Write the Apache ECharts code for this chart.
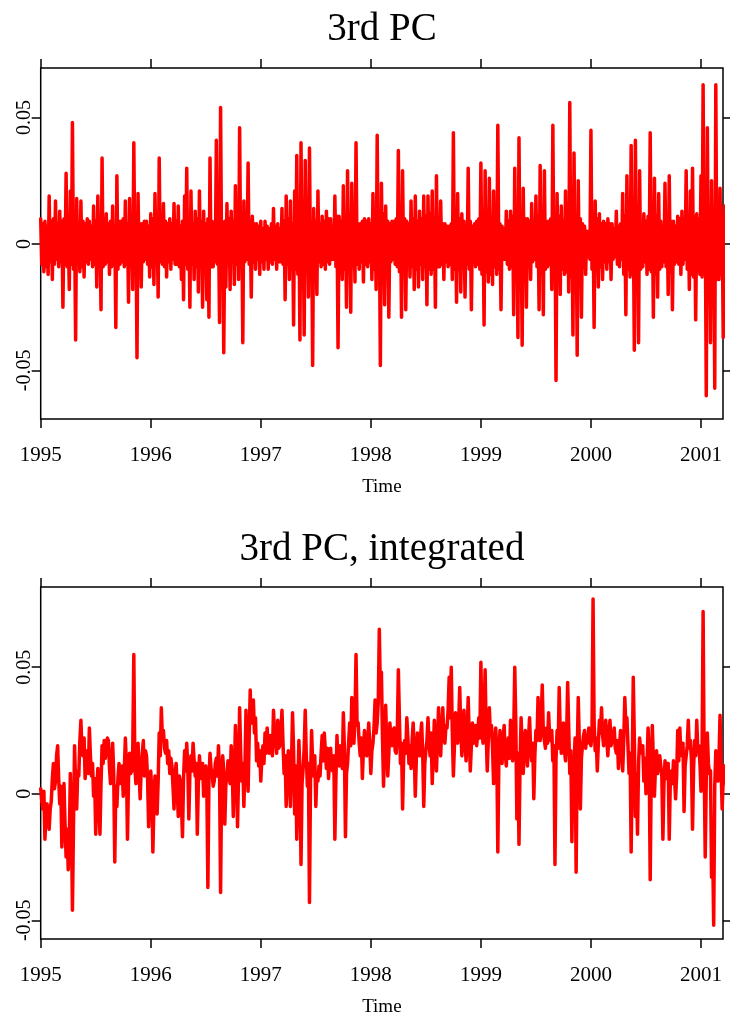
<!DOCTYPE html>
<html>
<head>
<meta charset="utf-8">
<script src="https://cdn.jsdelivr.net/npm/echarts@6/dist/echarts.min.js"></script>
<style>
  html, body { margin: 0; padding: 0; background: #fff; }
  #chart { width: 730px; height: 1018px; }
</style>
</head>
<body>
<div id="chart"></div>
<script>
// twice-weekly samples starting at 1995
var startYear = 1995;
var pointsPerYear = 104;

var yearTicks = [1995, 1996, 1997, 1998, 1999, 2000, 2001];
var valueTicks = [-0.05, 0, 0.05];

// 3rd PC
var pc3 = [
  0.010, -0.008, 0.008, -0.011, 0.009, -0.009, 0.007, -0.012, 0.019, -0.007,
  0.009, -0.014, 0.010, -0.008, 0.017, -0.006, 0.008, -0.009, 0.013, -0.007,
  0.009, -0.025, 0.010, -0.008, 0.028, -0.009, 0.007, -0.018, 0.021, -0.008,
  0.048, -0.010, 0.009, -0.038, 0.018, -0.007, 0.008, -0.011, 0.017, -0.009,
  0.009, -0.013, 0.008, -0.007, 0.010, -0.008, 0.009, -0.006, 0.007, -0.009,
  0.015, -0.008, 0.009, -0.017, 0.019, -0.007, 0.008, -0.026, 0.034, -0.009,
  0.010, -0.008, 0.012, -0.007, 0.008, -0.012, 0.009, -0.009, 0.015, -0.008,
  0.007, -0.033, 0.027, -0.010, 0.009, -0.008, 0.009, -0.007, 0.010, -0.009,
  0.017, -0.008, 0.008, -0.023, 0.018, -0.009, 0.009, -0.018, 0.040, -0.008,
  0.010, -0.045, 0.020, -0.009, 0.008, -0.017, 0.008, -0.007, 0.009, -0.006,
  0.009, -0.008, 0.007, -0.013, 0.012, -0.009, 0.010, -0.016, 0.020, -0.008,
  0.009, -0.021, 0.034, -0.007, 0.008, -0.008, 0.016, -0.009, 0.009, -0.013,
  0.008, -0.007, 0.010, -0.010, 0.008, -0.006, 0.016, -0.008, 0.009, -0.008,
  0.015, -0.009, 0.007, -0.014, 0.009, -0.022, 0.019, -0.008, 0.030, -0.010,
  0.009, -0.025, 0.021, -0.008, 0.008, -0.014, 0.013, -0.009, 0.010, -0.019,
  0.021, -0.007, 0.009, -0.025, 0.013, -0.008, 0.008, -0.022, 0.010, -0.029,
  0.034, -0.009, 0.009, -0.009, 0.008, -0.007, 0.041, -0.008, 0.010, -0.031,
  0.054, -0.009, 0.008, -0.043, 0.009, -0.017, 0.016, -0.008, 0.010, -0.018,
  0.013, -0.007, 0.009, -0.016, 0.023, -0.008, 0.008, -0.014, 0.046, -0.009,
  0.010, -0.039, 0.017, -0.007, 0.008, -0.006, 0.032, -0.008, 0.009, -0.021,
  0.011, -0.007, 0.008, -0.010, 0.008, -0.006, 0.007, -0.012, 0.009, -0.007,
  0.006, -0.010, 0.009, -0.006, 0.007, -0.010, 0.006, -0.007, 0.008, -0.008,
  0.014, -0.006, 0.007, -0.010, 0.008, -0.007, 0.006, -0.007, 0.014, -0.008,
  0.009, -0.022, 0.019, -0.008, 0.010, -0.014, 0.017, -0.009, 0.008, -0.032,
  0.021, -0.010, 0.035, -0.012, 0.011, -0.038, 0.040, -0.010, 0.012, -0.036,
  0.033, -0.009, 0.010, -0.021, 0.038, -0.011, 0.009, -0.048, 0.014, -0.008,
  0.009, -0.020, 0.021, -0.007, 0.008, -0.009, 0.011, -0.008, 0.009, -0.010,
  0.013, -0.007, 0.010, -0.008, 0.010, -0.006, 0.007, -0.006, 0.019, -0.009,
  0.011, -0.041, 0.011, -0.009, 0.009, -0.014, 0.023, -0.010, 0.010, -0.025,
  0.029, -0.011, 0.012, -0.027, 0.024, -0.009, 0.009, -0.015, 0.040, -0.008,
  0.008, -0.010, 0.008, -0.007, 0.009, -0.015, 0.010, -0.008, 0.009, -0.009,
  0.010, -0.007, 0.008, -0.014, 0.020, -0.010, 0.011, -0.018, 0.043, -0.012,
  0.010, -0.048, 0.024, -0.011, 0.012, -0.024, 0.015, -0.010, 0.009, -0.029,
  0.008, -0.007, 0.009, -0.006, 0.009, -0.008, 0.010, -0.009, 0.037, -0.011,
  0.012, -0.029, 0.029, -0.010, 0.010, -0.026, 0.009, -0.008, 0.008, -0.013,
  0.017, -0.009, 0.010, -0.018, 0.019, -0.010, 0.009, -0.017, 0.013, -0.008,
  0.010, -0.014, 0.019, -0.009, 0.011, -0.024, 0.019, -0.010, 0.012, -0.012,
  0.021, -0.010, 0.010, -0.025, 0.027, -0.009, 0.009, -0.009, 0.017, -0.008,
  0.008, -0.014, 0.008, -0.007, 0.007, -0.009, 0.007, -0.008, 0.008, -0.014,
  0.044, -0.010, 0.011, -0.023, 0.020, -0.010, 0.010, -0.019, 0.012, -0.009,
  0.009, -0.021, 0.007, -0.008, 0.030, -0.010, 0.009, -0.026, 0.007, -0.007,
  0.008, -0.009, 0.009, -0.008, 0.010, -0.010, 0.032, -0.012, 0.012, -0.032,
  0.029, -0.011, 0.011, -0.015, 0.026, -0.012, 0.010, -0.016, 0.021, -0.009,
  0.009, -0.012, 0.047, -0.010, 0.008, -0.026, 0.007, -0.006, 0.006, -0.006,
  0.013, -0.008, 0.009, -0.010, 0.013, -0.009, 0.011, -0.028, 0.030, -0.012,
  0.012, -0.037, 0.042, -0.013, 0.010, -0.040, 0.022, -0.011, 0.010, -0.025,
  0.010, -0.008, 0.009, -0.014, 0.016, -0.007, 0.007, -0.006, 0.019, -0.009,
  0.011, -0.026, 0.031, -0.012, 0.012, -0.028, 0.029, -0.010, 0.009, -0.009,
  0.009, -0.008, 0.010, -0.018, 0.047, -0.012, 0.011, -0.054, 0.020, -0.012,
  0.011, -0.020, 0.015, -0.010, 0.009, -0.012, 0.021, -0.011, 0.012, -0.019,
  0.056, -0.013, 0.012, -0.036, 0.036, -0.013, 0.011, -0.044, 0.025, -0.012,
  0.010, -0.029, 0.008, -0.007, 0.007, -0.012, 0.005, -0.005, 0.005, -0.006,
  0.045, -0.010, 0.010, -0.033, 0.017, -0.010, 0.010, -0.017, 0.012, -0.009,
  0.008, -0.014, 0.009, -0.007, 0.008, -0.010, 0.010, -0.007, 0.008, -0.014,
  0.008, -0.006, 0.006, -0.005, 0.013, -0.008, 0.007, -0.009, 0.008, -0.006,
  0.020, -0.012, 0.011, -0.028, 0.027, -0.010, 0.009, -0.013, 0.039, -0.012,
  0.012, -0.042, 0.041, -0.013, 0.010, -0.039, 0.029, -0.010, 0.008, -0.009,
  0.012, -0.007, 0.009, -0.012, 0.011, -0.010, 0.044, -0.011, 0.012, -0.029,
  0.026, -0.012, 0.011, -0.021, 0.020, -0.010, 0.009, -0.009, 0.007, -0.007,
  0.024, -0.009, 0.010, -0.020, 0.027, -0.011, 0.009, -0.026, 0.009, -0.008,
  0.007, -0.007, 0.011, -0.008, 0.010, -0.012, 0.013, -0.008, 0.008, -0.006,
  0.029, -0.010, 0.011, -0.018, 0.021, -0.012, 0.030, -0.013, 0.011, -0.030,
  0.012, -0.011, 0.010, -0.012, 0.027, -0.013, 0.063, -0.012, 0.012, -0.060,
  0.046, -0.014, 0.013, -0.039, 0.025, -0.014, 0.012, -0.057, 0.063, -0.014,
  0.013, -0.014, 0.022, -0.012, 0.011, -0.037, 0.015, -0.002
];

// 3rd PC, integrated
var pc3Integrated = [
  0.002, -0.003, -0.006, 0.001, -0.018, -0.008, -0.004, -0.011, -0.014, -0.006,
  -0.003, 0.006, 0.012, 0.002, 0.005, 0.015, 0.019, 0.006, -0.004, 0.003,
  -0.021, -0.009, 0.004, -0.012, -0.025, -0.014, -0.030, -0.019, 0.008, -0.010,
  -0.046, -0.012, 0.019, 0.004, -0.006, 0.009, 0.007, 0.021, 0.029, 0.017,
  0.015, 0.022, 0.006, 0.013, 0.017, 0.008, 0.026, 0.015, 0.007, 0.012,
  -0.001, 0.006, -0.016, 0.002, 0.010, -0.004, -0.016, 0.004, 0.019, 0.012,
  0.021, 0.014, 0.018, 0.022, 0.021, 0.010, 0.004, 0.013, 0.020, 0.008,
  -0.027, 0.003, -0.005, 0.006, 0.012, 0.004, 0.007, 0.011, -0.001, 0.009,
  0.022, 0.012, -0.018, 0.006, 0.016, 0.008, 0.009, 0.018, 0.055, 0.010,
  0.004, 0.013, 0.020, 0.008, -0.002, 0.010, 0.016, 0.021, 0.007, 0.017,
  0.015, 0.006, -0.013, 0.004, 0.009, 0.001, -0.023, -0.004, 0.007, 0.002,
  -0.008, 0.005, 0.024, 0.015, 0.034, 0.022, 0.025, 0.018, 0.016, 0.021,
  0.012, 0.017, 0.008, 0.014, 0.011, 0.003, -0.006, 0.008, 0.012, 0.002,
  -0.009, 0.007, 0.005, -0.004, -0.017, 0.006, 0.017, 0.009, 0.020, 0.011,
  -0.010, 0.008, 0.015, 0.009, 0.020, 0.013, 0.007, 0.012, -0.016, 0.004,
  0.015, 0.009, 0.006, 0.012, -0.001, 0.007, 0.011, 0.003, -0.037, 0.006,
  0.016, 0.010, 0.008, 0.003, 0.005, 0.012, 0.014, 0.007, 0.019, 0.008,
  -0.039, 0.005, 0.015, 0.009, -0.012, 0.004, 0.006, 0.013, 0.011, 0.004,
  0.019, 0.011, -0.009, 0.007, 0.027, 0.014, -0.013, 0.008, 0.034, 0.016,
  0.005, 0.012, -0.005, 0.010, 0.033, 0.018, 0.001, 0.022, 0.041, 0.028,
  0.031, 0.037, 0.024, 0.030, 0.013, 0.020, 0.011, 0.017, 0.005, 0.014,
  0.019, 0.012, 0.024, 0.016, 0.026, 0.019, 0.016, 0.023, 0.021, 0.015,
  0.033, 0.024, 0.021, 0.016, 0.029, 0.018, 0.019, 0.025, 0.033, 0.020,
  0.008, 0.015, -0.005, 0.009, 0.017, 0.007, -0.005, 0.012, 0.032, 0.017,
  -0.008, 0.011, -0.018, 0.003, 0.021, 0.008, -0.028, 0.004, 0.010, 0.018,
  0.033, 0.015, 0.003, 0.012, -0.043, 0.006, 0.025, 0.012, 0.007, 0.015,
  -0.005, 0.008, 0.005, 0.011, 0.007, 0.016, 0.023, 0.013, 0.024, 0.017,
  0.010, 0.018, 0.006, 0.013, 0.018, 0.010, 0.009, 0.015, -0.018, 0.006,
  0.023, 0.012, 0.011, 0.019, 0.016, 0.010, 0.032, 0.018, -0.017, 0.008,
  0.012, 0.020, 0.028, 0.019, 0.038, 0.026, 0.020, 0.030, 0.055, 0.027,
  0.028, 0.020, 0.015, 0.022, 0.006, 0.018, 0.025, 0.016, 0.015, 0.021,
  0.028, 0.019, 0.008, 0.017, 0.020, 0.026, 0.037, 0.024, 0.028, 0.036,
  0.065, 0.040, 0.048, 0.022, 0.003, 0.018, 0.035, 0.020, 0.007, 0.016,
  0.028, 0.021, 0.019, 0.025, 0.026, 0.017, 0.016, 0.024, 0.049, 0.030,
  0.012, 0.020, -0.006, 0.014, 0.021, 0.016, 0.030, 0.022, 0.012, 0.019,
  0.010, 0.021, 0.028, 0.017, -0.001, 0.014, 0.024, 0.018, 0.015, 0.023,
  0.028, 0.016, -0.005, 0.012, 0.017, 0.021, 0.030, 0.020, 0.015, 0.024,
  0.004, 0.016, 0.029, 0.019, 0.009, 0.022, 0.034, 0.021, 0.015, 0.026,
  0.034, 0.022, 0.020, 0.027, 0.026, 0.033, 0.046, 0.030, 0.050, 0.024,
  0.007, 0.019, 0.032, 0.022, 0.020, 0.028, 0.042, 0.025, 0.015, 0.023,
  0.033, 0.021, 0.013, 0.024, 0.038, 0.022, 0.009, 0.019, 0.028, 0.020,
  0.022, 0.027, 0.019, 0.024, 0.030, 0.022, 0.052, 0.026, 0.020, 0.031,
  0.049, 0.024, 0.009, 0.021, 0.034, 0.023, 0.027, 0.018, 0.004, 0.020,
  0.026, 0.017, -0.023, 0.014, 0.025, 0.019, 0.012, 0.022, 0.027, 0.016,
  0.011, 0.020, 0.022, 0.014, 0.029, 0.019, 0.013, 0.023, 0.050, 0.028,
  -0.010, 0.016, -0.020, 0.012, 0.030, 0.019, 0.008, 0.017, 0.025, 0.020,
  0.011, 0.022, 0.030, 0.018, 0.013, 0.020, -0.002, 0.015, 0.025, 0.021,
  0.038, 0.026, 0.021, 0.030, 0.043, 0.024, 0.021, 0.018, 0.026, 0.020,
  0.032, 0.022, 0.021, 0.025, 0.013, 0.019, -0.028, 0.014, 0.025, 0.018,
  0.042, 0.024, 0.016, 0.021, 0.028, 0.017, 0.013, 0.022, 0.044, 0.026,
  0.008, 0.017, -0.019, 0.012, 0.011, 0.022, -0.031, 0.015, 0.038, 0.021,
  -0.006, 0.014, 0.019, 0.023, 0.025, 0.018, 0.023, 0.020, 0.026, 0.021,
  0.019, 0.024, 0.077, 0.028, 0.017, 0.022, 0.009, 0.020, 0.029, 0.024,
  0.034, 0.023, 0.019, 0.025, 0.029, 0.021, 0.015, 0.024, 0.029, 0.019,
  0.019, 0.023, 0.026, 0.018, 0.016, 0.021, 0.010, 0.019, 0.025, 0.017,
  0.009, 0.021, 0.038, 0.027, 0.030, 0.019, 0.008, 0.016, -0.023, 0.010,
  0.046, 0.022, -0.009, 0.008, -0.016, 0.012, 0.022, 0.017, 0.016, 0.019,
  0.005, 0.014, 0.000, 0.012, 0.026, 0.015, -0.034, 0.008, 0.027, 0.013,
  -0.001, 0.011, 0.017, 0.008, 0.012, 0.015, 0.015, 0.007, -0.018, 0.004,
  0.013, 0.006, 0.009, 0.012, -0.018, 0.005, 0.009, 0.004, 0.013, 0.006,
  -0.002, 0.007, 0.025, 0.013, 0.026, 0.016, 0.015, 0.020, -0.007, 0.011,
  0.015, 0.019, 0.029, 0.018, 0.021, 0.013, -0.014, 0.010, 0.021, 0.015,
  0.029, 0.017, 0.019, 0.012, 0.001, 0.014, 0.072, 0.012, -0.025, 0.006,
  0.024, 0.012, 0.008, 0.009, -0.033, -0.020, -0.052, 0.003, 0.017, 0.009,
  0.005, 0.014, 0.031, 0.010, -0.006, 0.006, 0.011, 0.004
];

var FONT = '"Liberation Serif", "DejaVu Serif", serif';

function toPairs(arr) {
  return arr.map(function (v, i) {
    return [startYear + i / pointsPerYear, v];
  });
}

function xAxes(gridIndex) {
  var tick = {
    show: true,
    length: 9,
    customValues: yearTicks,
    lineStyle: { color: '#000', width: 1.5 }
  };
  return [
    {
      gridIndex: gridIndex,
      type: 'value',
      position: 'bottom',
      min: 1995,
      max: 2001.2,
      axisLine: { show: false, onZero: false },
      axisTick: tick,
      splitLine: { show: false },
      axisLabel: {
        customValues: yearTicks,
        margin: 26,
        fontFamily: FONT,
        fontSize: 21,
        color: '#000',
        formatter: function (v) { return String(v); }
      },
      name: 'Time',
      nameLocation: 'middle',
      nameGap: 59,
      nameTextStyle: { fontFamily: FONT, fontSize: 19, color: '#000' }
    },
    {
      gridIndex: gridIndex,
      type: 'value',
      position: 'top',
      min: 1995,
      max: 2001.2,
      axisLine: { show: false, onZero: false },
      axisTick: tick,
      splitLine: { show: false },
      axisLabel: { show: false }
    }
  ];
}

function yAxes(gridIndex, min, max) {
  var tick = {
    show: true,
    length: 9,
    customValues: valueTicks,
    lineStyle: { color: '#000', width: 1.5 }
  };
  return [
    {
      gridIndex: gridIndex,
      type: 'value',
      position: 'left',
      min: min,
      max: max,
      axisLine: { show: false, onZero: false },
      axisTick: tick,
      splitLine: { show: false },
      axisLabel: {
        customValues: valueTicks,
        rotate: 90,
        margin: 6,
        fontFamily: FONT,
        fontSize: 20,
        color: '#000',
        formatter: function (v) { return String(v); }
      }
    },
    {
      gridIndex: gridIndex,
      type: 'value',
      position: 'right',
      min: min,
      max: max,
      axisLine: { show: false, onZero: false },
      axisTick: tick,
      splitLine: { show: false },
      axisLabel: { show: false }
    }
  ];
}

var lineStyle = { color: '#ff0000', width: 3.5, join: 'round', cap: 'round' };

var chart = echarts.init(document.getElementById('chart'));
var option = {
  animation: false,
  backgroundColor: '#fff',
  grid: [
    { left: 40.7, right: 7, top: 68, height: 351, show: true, borderColor: '#000', borderWidth: 1.5, outerBoundsMode: 'none' },
    { left: 40.7, right: 7, top: 587, height: 352, show: true, borderColor: '#000', borderWidth: 1.5, outerBoundsMode: 'none' }
  ],
  xAxis: xAxes(0).concat(xAxes(1)),
  yAxis: yAxes(0, -0.0692, 0.0696).concat(yAxes(1, -0.0574, 0.0817)),
  graphic: [
    {
      type: 'text', x: 382, y: 30,
      style: { text: '3rd PC', font: '39px ' + FONT, fill: '#000', align: 'center', verticalAlign: 'middle' }
    },
    {
      type: 'text', x: 382, y: 550,
      style: { text: '3rd PC, integrated', font: '39px ' + FONT, fill: '#000', align: 'center', verticalAlign: 'middle' }
    }
  ],
  series: [
    {
      type: 'line',
      xAxisIndex: 0,
      yAxisIndex: 0,
      data: toPairs(pc3),
      showSymbol: false,
      lineStyle: lineStyle
    },
    {
      type: 'line',
      xAxisIndex: 2,
      yAxisIndex: 2,
      data: toPairs(pc3Integrated),
      showSymbol: false,
      lineStyle: lineStyle
    }
  ]
};
chart.setOption(option);
</script>
</body>
</html>
